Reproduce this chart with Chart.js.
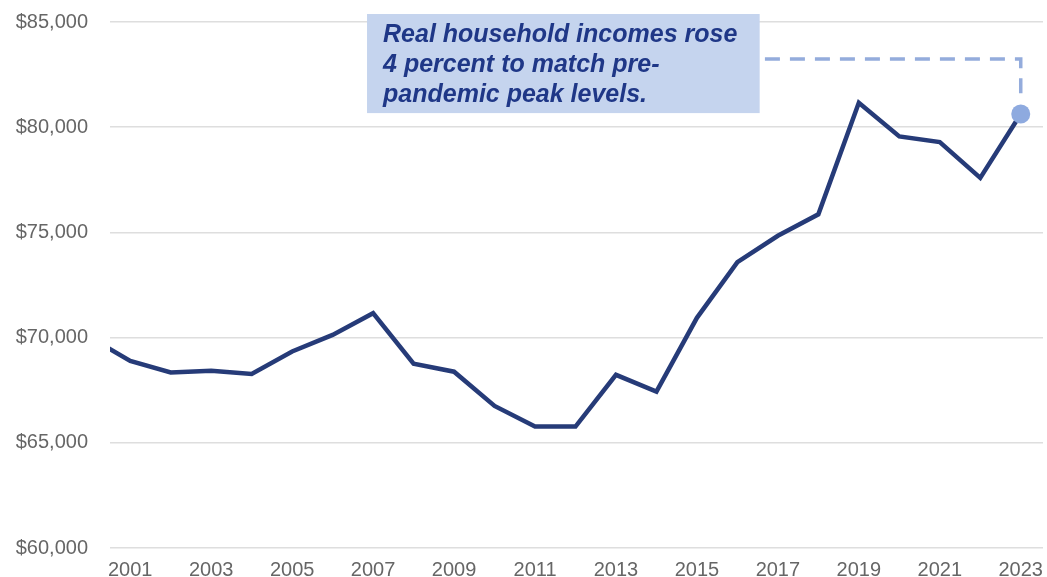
<!DOCTYPE html>
<html>
<head>
<meta charset="utf-8">
<script src="https://cdn.jsdelivr.net/npm/chart.js@4"></script>
<style>
  html, body { margin: 0; padding: 0; background: #fff; }
  #wrap { width: 1047px; height: 577px; position: relative; }
</style>
</head>
<body>
<div id="wrap"><canvas id="incomeChart"></canvas></div>
<script>
// real median household income, 2023 dollars
const years = [2000, 2001, 2002, 2003, 2004, 2005, 2006, 2007, 2008, 2009, 2010, 2011,
               2012, 2013, 2014, 2015, 2016, 2017, 2018, 2019, 2020, 2021, 2022, 2023];
const income = [70020, 68890, 68340, 68420, 68270, 69340, 70130, 71160, 68760, 68380, 66750, 65770,
                65770, 68230, 67430, 70940, 73590, 74840, 75860, 81160, 79560, 79290, 77590, 80630];
const xTickYears = [2001, 2003, 2005, 2007, 2009, 2011, 2013, 2015, 2017, 2019, 2021, 2023];
const yTickValues = [60000, 65000, 70000, 75000, 80000, 85000];

// callout (data coords)
const calloutLines = ['Real household incomes rose', '4 percent to match pre-', 'pandemic peak levels.'];
const calloutBox = { x0: 2006.85, x1: 2016.55, y0: 80670, y1: 85380 };
const leaderX = [2016.68, 2023, 2023];
const leaderY = [83240, 83240, 81440];

const calloutPlugin = {
    id: 'callout',
    afterDatasetsDraw(chart) {
        const ctx = chart.ctx;
        const xs = chart.scales.x, ys = chart.scales.y;
        const left = xs.getPixelForValue(calloutBox.x0);
        const right = xs.getPixelForValue(calloutBox.x1);
        const top = ys.getPixelForValue(calloutBox.y1);
        const bottom = ys.getPixelForValue(calloutBox.y0);
        ctx.save();
        ctx.fillStyle = '#c5d4ee';
        ctx.fillRect(left, top, right - left, bottom - top);
        ctx.fillStyle = '#1f3787';
        ctx.font = 'italic bold 25px "Liberation Sans", Arial, sans-serif';
        ctx.textBaseline = 'alphabetic';
        ctx.textAlign = 'left';
        calloutLines.forEach((t, i) => {
            ctx.fillText(t, left + 16, top + 28 + i * 30);
        });
        ctx.restore();
    }
};

const tickFont = { family: '"Liberation Sans", Arial, sans-serif', size: 20 };

new Chart('incomeChart', {
    type: 'line',
    data: {
        datasets: [
            {
                label: 'leader',
                data: leaderX.map((x, i) => ({ x: x, y: leaderY[i] })),
                borderColor: '#94acdc',
                borderWidth: 3.5,
                borderDash: [15, 10],
                pointRadius: 0,
                clip: false,
                order: 3
            },
            {
                label: 'Median household income',
                data: years.map((y, i) => ({ x: y, y: income[i] })),
                borderColor: '#263b78',
                borderWidth: 4.5,
                pointRadius: 0,
                tension: 0,
                clip: 0,
                order: 2
            },
            {
                label: '2023',
                data: [{ x: years[years.length - 1], y: income[income.length - 1] }],
                pointRadius: 9.5,
                pointBackgroundColor: '#8eaadf',
                pointBorderWidth: 0,
                showLine: false,
                clip: false,
                order: 1
            }
        ]
    },
    options: {
        responsive: true,
        maintainAspectRatio: false,
        animation: false,
        devicePixelRatio: 1,
        // big 2023 marker would otherwise push the chart area in
        layout: { autoPadding: false, padding: { top: 22, right: 4, left: 0, bottom: 0 } },
        plugins: {
            legend: { display: false },
            tooltip: { enabled: false }
        },
        scales: {
            x: {
                type: 'linear',
                min: 2000.5,
                max: 2023.55,
                afterBuildTicks: axis => { axis.ticks = xTickYears.map(v => ({ value: v })); },
                afterFit: axis => {
                    axis.height = 29;
                    axis.paddingLeft = 0;
                    axis.paddingRight = 0;
                },
                // tick marks hidden, tickLength only used as the label gap
                grid: { display: false, drawTicks: true, tickLength: 10 },
                border: { display: false },
                ticks: {
                    autoSkip: false,
                    maxRotation: 0,
                    padding: 0,
                    color: '#666',
                    font: tickFont,
                    callback: v => String(v)
                }
            },
            y: {
                min: 60000,
                max: 85000,
                afterBuildTicks: axis => { axis.ticks = yTickValues.map(v => ({ value: v })); },
                afterFit: axis => {
                    axis.width = 110;
                    axis.paddingTop = 0;
                    axis.paddingBottom = 0;
                },
                grid: { color: '#dedede', lineWidth: 1.5, drawTicks: false },
                border: { display: false },
                ticks: {
                    padding: 22,
                    color: '#666',
                    font: tickFont,
                    callback: v => '$' + v.toLocaleString('en-US')
                }
            }
        }
    },
    plugins: [calloutPlugin]
});
</script>
</body>
</html>
